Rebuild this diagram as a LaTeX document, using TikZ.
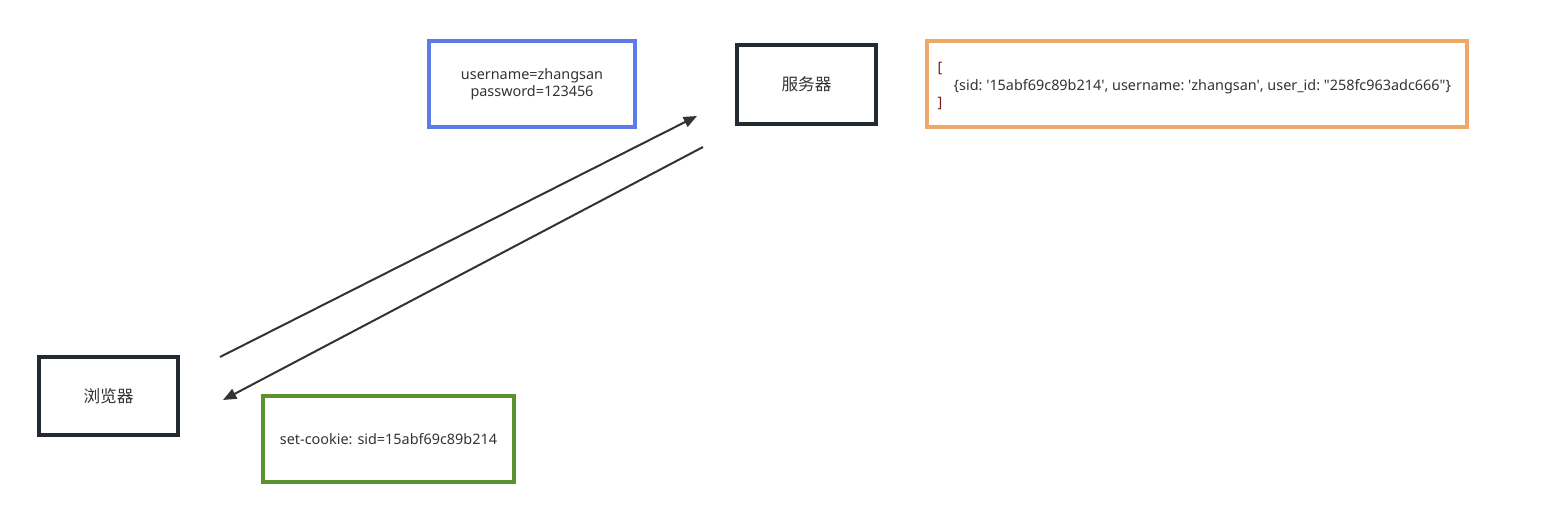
\documentclass[tikz,border=0pt]{standalone}
\usepackage{fontspec}
\setmainfont{Noto Sans}
\setmonofont{Noto Sans}
\newfontfamily\cjk{Noto Sans CJK SC}
\usetikzlibrary{arrows.meta}
\definecolor{boxdark}{HTML}{232A31}
\definecolor{boxblue}{HTML}{5C7BE6}
\definecolor{boxorange}{HTML}{F0A866}
\definecolor{boxgreen}{HTML}{5A9230}
\definecolor{txt}{HTML}{333333}
\definecolor{brk}{HTML}{6E1E1E}
\tikzset{
  box/.style={draw, line width=2.3pt, inner sep=0pt, text=txt, font=\fontsize{10.8pt}{12.6pt}\selectfont},
  cjkbox/.style={box, font=\cjk\fontsize{12.5pt}{14pt}\selectfont},
  conn/.style={draw=txt, line width=1.5pt, -{Triangle[length=10pt,width=8pt]}},
}
\begin{document}
\begin{tikzpicture}[x=0.75pt,y=-0.75pt]
\useasboundingbox (0,0) rectangle (1560,507);
% boxes
\node[box, draw=boxblue, minimum width=206*0.75pt, minimum height=86*0.75pt, align=center] (cred) at (532,84) {username=zhangsan\\password=123456};
\node[cjkbox, draw=boxdark, minimum width=139*0.75pt, minimum height=79*0.75pt] (server) at (806.5,84.5) {服务器};
\node[box, draw=boxorange, minimum width=540*0.75pt, minimum height=86*0.75pt] (store) at (1197,84) {};
\node[anchor=west, text=txt, align=left, font=\ttfamily\fontsize{10.8pt}{12.8pt}\selectfont] (storetext) at (933,86)
  {\textcolor{brk}{[}\\\hspace*{12pt}\{sid: '15abf69c89b214', username: 'zhangsan', user\_id: "258fc963adc666"\}\\\textcolor{brk}{]}};
\node[cjkbox, draw=boxdark, minimum width=139*0.75pt, minimum height=78*0.75pt] (browser) at (108.5,396) {浏览器};
\node[box, draw=boxgreen, minimum width=251*0.75pt, minimum height=86*0.75pt] (cookie) at (388.5,439) {set-cookie: sid=15abf69c89b214};
% connector end points
\coordinate (reqStart) at (220,357);
\coordinate (reqEnd) at (697,116);
\coordinate (resStart) at (703,147);
\coordinate (resEnd) at (223,400);
\draw[conn] (reqStart) -- (reqEnd);
\draw[conn] (resStart) -- (resEnd);
\end{tikzpicture}
\end{document}
